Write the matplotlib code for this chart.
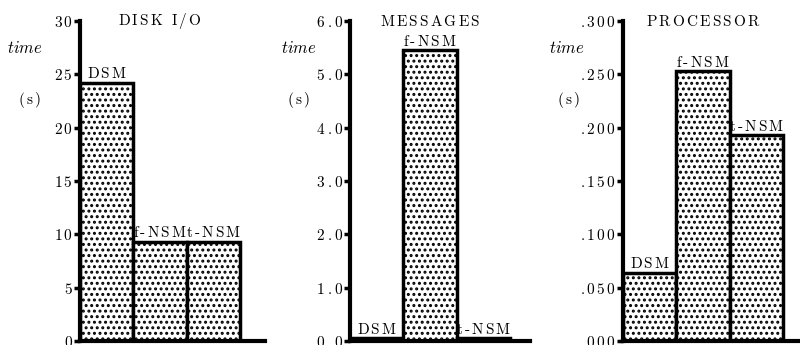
import matplotlib
matplotlib.use('Agg')
import matplotlib.pyplot as plt
from matplotlib.ticker import FixedLocator, FixedFormatter

plt.rcParams['font.family'] = 'cmr10'
plt.rcParams['mathtext.fontset'] = 'cm'
plt.rcParams['axes.unicode_minus'] = False
plt.rcParams['hatch.linewidth'] = 1.4
plt.rcParams['hatch.color'] = 'black'

schemes = ['DSM', 'f-NSM', 't-NSM']

disk_io = [24.2, 9.3, 9.3]
messages = [0.05, 5.45, 0.05]
processor = [0.064, 0.253, 0.193]

disk_ticks = [0, 5, 10, 15, 20, 25, 30]
disk_ticklabels = ['0', '5', '10', '15', '20', '25', '30']
msg_ticks = [0.0, 1.0, 2.0, 3.0, 4.0, 5.0, 6.0]
msg_ticklabels = ['0.0', '1.0', '2.0', '3.0', '4.0', '5.0', '6.0']
proc_ticks = [0.0, 0.05, 0.1, 0.15, 0.2, 0.25, 0.3]
proc_ticklabels = ['.000', '.050', '.100', '.150', '.200', '.250', '.300']


def spaced(s):
    # letter-spaced roman text, hyphens kept outside math so they stay hyphens;
    # mathtext already puts a small space after a '.'
    chunks = s.split('-')
    out = []
    for c in chunks:
        if not c:
            out.append('')
            continue
        tex = ''
        for k, ch in enumerate(c):
            if k > 0:
                if ch == '.':
                    tex += r'\;'
                elif c[k - 1] != '.':
                    tex += r'\,'
            tex += r'\ ' if ch == ' ' else ch
        out.append(r'$\mathrm{' + tex + '}$')
    return '$\\,$-$\\,$'.join(out)


W, H = 800, 345
fig = plt.figure(figsize=(W / 100, H / 100), dpi=100)

BAR_PX = 53.4
FS = 11
panels = [
    # title, values, ticks, labels, left px, right px
    ('DISK I/O', disk_io, disk_ticks, disk_ticklabels, 80, 265),
    ('MESSAGES', messages, msg_ticks, msg_ticklabels, 350, 530),
    ('PROCESSOR', processor, proc_ticks, proc_ticklabels, 623, 800),
]
ylabel_pos = [((25, 48), (29, 100)), ((299, 48), (298, 100)), ((567, 48), (568, 100))]

y_top, y_bot = 21, 341
for (title, vals, ticks, labels, x0, x1), (tpos, spos) in zip(panels, ylabel_pos):
    ax = fig.add_axes([x0 / W, (H - y_bot) / H, (x1 - x0) / W, (y_bot - y_top) / H])
    ax.set_xlim(0, (x1 - x0) / BAR_PX)
    ax.set_ylim(0, ticks[-1])
    ax.bar(range(3), vals, width=1.0, align='edge', color='white',
           edgecolor='black', linewidth=2.5, hatch='...', zorder=2)
    for i, (name, v) in enumerate(zip(schemes, vals)):
        ax.annotate(spaced(name), (i + 0.5, v), xytext=(0, 1),
                    textcoords='offset points', ha='center', va='bottom',
                    fontsize=FS, zorder=1, annotation_clip=False)
    ax.text(1.5, ticks[-1], spaced(title), ha='center', va='center', fontsize=FS)

    ax.spines['top'].set_visible(False)
    ax.spines['right'].set_visible(False)
    ax.spines['left'].set_linewidth(3)
    ax.spines['bottom'].set_linewidth(3)
    ax.set_xticks([])
    ax.yaxis.set_major_locator(FixedLocator(ticks))
    ax.yaxis.set_major_formatter(FixedFormatter([spaced(l) for l in labels]))
    ax.tick_params(axis='y', length=4, width=2.5, pad=1, labelsize=11)

    fig.text(tpos[0] / W, 1 - tpos[1] / H, '$time$', ha='center', va='center', fontsize=12)
    fig.text(spos[0] / W, 1 - spos[1] / H, spaced('(s)'), ha='center', va='center', fontsize=FS)

fig.savefig('out.png', dpi=100)
